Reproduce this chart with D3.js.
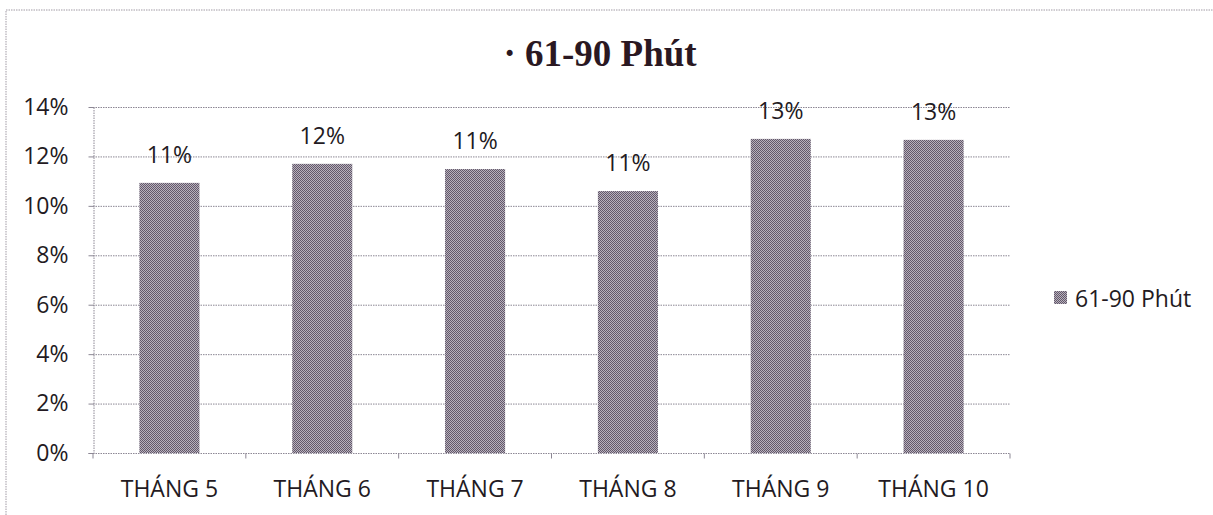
<!DOCTYPE html>
<html><head><meta charset="utf-8">
<script src="https://cdn.jsdelivr.net/npm/d3@7"></script>
<style>body{margin:0;background:#fff}svg{display:block}</style>
</head><body>
<svg id="c" width="1213" height="515"></svg>
<script>
const categories = ["THÁNG 5","THÁNG 6","THÁNG 7","THÁNG 8","THÁNG 9","THÁNG 10"];
const values = [10.93, 11.70, 11.49, 10.60, 12.71, 12.67];
const yTicks = [0,2,4,6,8,10,12,14];
const seriesName = "61-90 Phút";
const titleText = "· 61-90 Phút";

const svg = d3.select("#c");
const txt = "#231a22", grid = "#8c8794";
const font = "'Open Sans', sans-serif";
const fs = 23;

const defs = svg.append("defs");
const pat = defs.append("pattern").attr("id","dots").attr("width",2).attr("height",2).attr("patternUnits","userSpaceOnUse");
pat.append("rect").attr("width",2).attr("height",2).attr("fill","#b8b1bc");
pat.append("rect").attr("x",0).attr("y",0).attr("width",1).attr("height",1).attr("fill","#62586a");
pat.append("rect").attr("x",1).attr("y",1).attr("width",1).attr("height",1).attr("fill","#62586a");

// outer frame
svg.append("path").attr("d","M6,515 V10 H1213").attr("fill","none")
  .attr("stroke","#a09aa4").attr("stroke-width",1).attr("stroke-dasharray","1.5,1");

const L=93, R=1010, T=107, B=453;
const x = d3.scaleBand().domain(categories).range([L,R]).paddingInner(0.607).paddingOuter(0.3035);
const y = d3.scaleLinear().domain([0,14]).range([B,T]);

// gridlines
svg.append("g").selectAll("line").data(yTicks.filter(d=>d>0)).join("line")
  .attr("x1",L).attr("x2",R).attr("y1",d=>y(d)+0.5).attr("y2",d=>y(d)+0.5)
  .attr("stroke",grid).attr("stroke-width",1).attr("stroke-dasharray","1.5,1");

// y axis
const ya = svg.append("g").attr("transform",`translate(${L+0.5},0)`)
  .call(d3.axisLeft(y).tickValues(yTicks).tickSize(5).tickFormat(d=>d+"%"));
ya.select(".domain").attr("stroke",grid).attr("stroke-dasharray","1.5,1");
ya.selectAll(".tick line").attr("stroke",grid);
ya.selectAll(".tick text").attr("x",-25).attr("fill",txt).attr("font-family",font).attr("font-size",fs);

// bars
svg.append("g").selectAll("rect").data(values).join("rect")
  .attr("x",(d,i)=>x(categories[i])).attr("width",x.bandwidth())
  .attr("y",d=>y(d)).attr("height",d=>B-y(d)).attr("fill","url(#dots)");

// x axis
const step = x.step();
const xa = svg.append("g").attr("transform",`translate(0,${B+0.5})`);
xa.append("line").attr("x1",L).attr("x2",R).attr("stroke",grid).attr("stroke-dasharray","1.5,1");
xa.selectAll("line.t").data(d3.range(categories.length+1)).join("line").attr("class","t")
  .attr("x1",i=>L+i*step).attr("x2",i=>L+i*step).attr("y1",0).attr("y2",5).attr("stroke",grid);
xa.selectAll("text").data(categories).join("text")
  .attr("x",d=>x(d)+x.bandwidth()/2).attr("y",43).attr("text-anchor","middle")
  .attr("fill",txt).attr("font-family",font).attr("font-size",fs).text(d=>d);

// data labels
svg.append("g").selectAll("text").data(values).join("text")
  .attr("x",(d,i)=>x(categories[i])+x.bandwidth()/2).attr("y",d=>y(d)-20)
  .attr("text-anchor","middle").attr("fill",txt).attr("font-family",font).attr("font-size",fs)
  .text(d=>Math.round(d)+"%");

// title
svg.append("text").attr("x",600).attr("y",66).attr("text-anchor","middle")
  .attr("font-family","'Liberation Serif', 'Times New Roman', serif").attr("font-weight","bold")
  .attr("font-size",37).attr("fill","#2a1822").text(titleText);

// legend
svg.append("rect").attr("x",1054).attr("y",291).attr("width",13).attr("height",13).attr("fill","url(#dots)");
svg.append("text").attr("x",1075).attr("y",307).attr("fill",txt).attr("font-family",font)
  .attr("font-size",fs).text(seriesName);
</script>
</body></html>
